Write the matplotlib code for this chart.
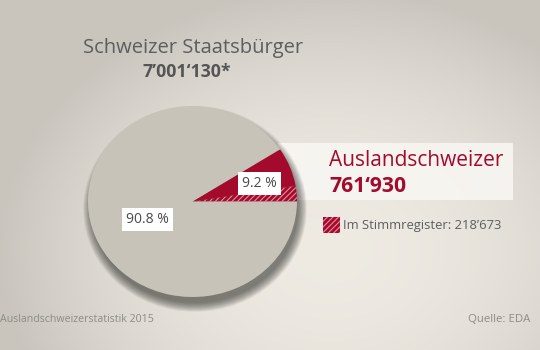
import numpy as np
import matplotlib
matplotlib.use("Agg")
import matplotlib.pyplot as plt
from matplotlib.patches import Rectangle, Ellipse

# data
shares = [90.8, 9.2]                 # Schweizer im Inland / Auslandschweizer (%)
share_labels = ["90.8 %", "9.2 %"]
n_schweizer = 7001130
n_ausland = 761930
n_stimmregister = 218673

title_main = "Schweizer Staatsbürger"
title_num = "7’001‘130*"
red_title = "Auslandschweizer"
red_num = "761‘930"
legend_txt = "Im Stimmregister: 218’673"
footer_left = "Auslandschweizerstatistik 2015"
footer_right = "Quelle: EDA"

RED = "#a30a2c"
GREY = "#c7c3b9"
TXT = "#5e5e5e"

plt.rcParams['font.family'] = ['Open Sans', 'DejaVu Sans']
plt.rcParams['hatch.linewidth'] = 0.8

fig = plt.figure(figsize=(5.4, 3.5), dpi=100)

# background in pixel coords
bg = fig.add_axes([0, 0, 1, 1])
bg.set_xlim(0, 540)
bg.set_ylim(350, 0)
bg.axis('off')
yy, xx = np.mgrid[0:350, 0:540]
d = np.sqrt(((xx - 330) / 330.0) ** 2 + ((yy - 250) / 260.0) ** 2)
d = np.clip(d, 0, 1)
c0 = np.array([0.935, 0.92, 0.89])
c1 = np.array([0.79, 0.775, 0.745])
img = c0[None, None, :] * (1 - d[..., None] ** 2) + c1[None, None, :] * d[..., None] ** 2
bg.imshow(img, extent=(0, 540, 350, 0), aspect='auto', zorder=0)

# white label box behind pie
bg.add_patch(Rectangle((278, 143), 235, 57, facecolor="#f8f6f2", alpha=0.9,
                       edgecolor='none', zorder=1))

# soft shadow of the pie, offset downwards
for i in range(12):
    bg.add_patch(Ellipse((195, 209), 206 + 1.6 * i, 188 + 1.6 * i,
                         facecolor="#2e2e28", alpha=0.065, edgecolor='none', zorder=1))

# texts
bg.text(193, 48, title_main, ha='center', va='center', fontsize=14.5, color=TXT)
bg.text(187, 72, title_num, ha='center', va='center', fontsize=12.8,
        fontweight='bold', color="#555555")
bg.text(329, 160, red_title, ha='left', va='center', fontsize=15, color=RED)
bg.text(329, 186, red_num, ha='left', va='center', fontsize=15.2,
        fontweight='bold', color=RED)
bg.add_patch(Rectangle((323, 217), 17, 16, facecolor=RED, edgecolor="#e98a9c",
                       linewidth=0, hatch='//////', zorder=3))
bg.text(343, 225, legend_txt, ha='left', va='center', fontsize=9.4, color=TXT)
bg.text(0, 319, footer_left, ha='left', va='center', fontsize=7.7, color="#8e8c87")
bg.text(530, 319, footer_right, ha='right', va='center', fontsize=8.2, color="#8e8c87")

# pie
ax = fig.add_axes([88 / 540, 53 / 350, 209 / 540, 191 / 350])
frac_reg = n_stimmregister / n_ausland
vals = [shares[1] * frac_reg, shares[1] * (1 - frac_reg), shares[0]]
wedges, _ = ax.pie(vals, startangle=0, counterclock=True,
                   colors=[RED, RED, GREY], radius=1,
                   wedgeprops=dict(linewidth=0))
wedges[0].set_edgecolor("#e98a9c")
wedges[0].set_hatch('//////')
ax.set_xlim(-1, 1)
ax.set_ylim(-1, 1)
ax.set_aspect('auto')
ax.axis('off')

# percentage labels
a_red = np.deg2rad(shares[1] / 100 * 360 / 2)
a_grey = np.deg2rad(shares[1] / 100 * 360 + shares[0] / 100 * 360 / 2 + 7)
for ang, r, lab in [(a_grey, 0.47, share_labels[0]), (a_red, 0.67, share_labels[1])]:
    ax.text(r * np.cos(ang), r * np.sin(ang), lab, ha='center', va='center',
            fontsize=10, color="#4a4a4a",
            bbox=dict(boxstyle='square,pad=0.3', facecolor='white', edgecolor='none'))

fig.savefig("out.png", dpi=100)
